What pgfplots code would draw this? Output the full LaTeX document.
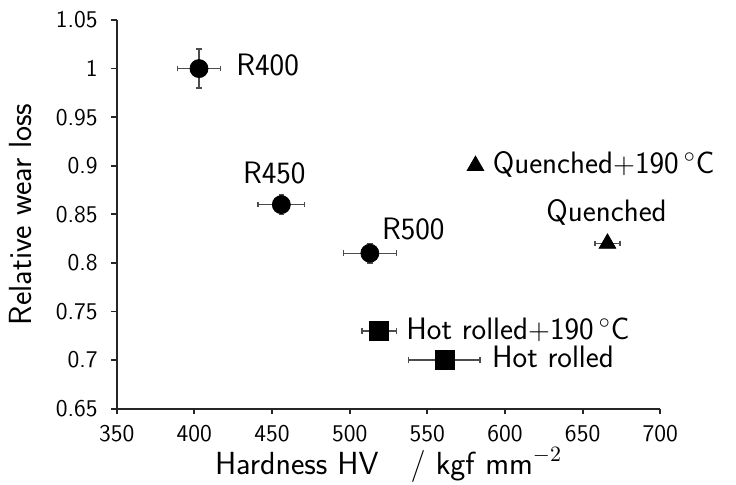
\documentclass[border=0pt]{standalone}
\usepackage{pgfplots}
\pgfplotsset{compat=1.18}
\renewcommand{\familydefault}{\sfdefault}
\begin{document}
\begin{tikzpicture}
\begin{axis}[
  scale only axis,
  width=271.8pt, height=194.35pt,
  xmin=350, xmax=700, ymin=0.65, ymax=1.05,
  axis lines=left,
  axis line style={-, line width=0.9pt, black!85},
  xtick={350,400,...,700},
  ytick={0.65,0.7,...,1.05},
  yticklabels={0.65,0.7,0.75,0.8,0.85,0.9,0.95,1,1.05},
  tick align=outside,
  major tick length=2.8pt,
  tick style={line width=0.9pt, black!85},
  /pgf/number format/assume math mode=true,
  tick label style={font=\fontsize{12}{14}\selectfont},
  xticklabel style={anchor=base, yshift=-13.7pt},
  yticklabel style={anchor=east, inner sep=0pt, xshift=-6.5pt},
  clip=false,
  error bars/error bar style={line width=0.7pt, black!70},
  error bars/error mark options={rotate=90, mark size=1.4pt, line width=0.7pt, black!70},
]
% circles (R400, R450, R500)
\addplot[only marks, mark=*, mark size=4.5pt, black,
  error bars/.cd, x dir=both, x explicit, y dir=both, y explicit]
  table[x=x, y=y, x error=ex, y error=ey] {
x y ex ey
403 1.00 14 0.02
456 0.86 15 0.01
513 0.81 17 0.01
};
% triangles (Quenched+190, Quenched)
\addplot[only marks, mark=triangle*, mark size=4.8pt, black,
  error bars/.cd, x dir=both, x explicit]
  table[x=x, y=y, x error=ex] {
x y ex
581 0.90 0
666 0.82 8
};
% squares (Hot rolled+190, Hot rolled)
\addplot[only marks, mark=square*, mark size=4.75pt, black,
  error bars/.cd, x dir=both, x explicit]
  table[x=x, y=y, x error=ex] {
x y ex
519 0.73 11
561 0.70 23
};
\begin{scope}[every node/.style={anchor=base west, inner sep=0pt, font=\fontsize{15.5}{18}\selectfont}]
\node at (axis cs:426.8,0.9924) {R400};
\node at (axis cs:431.1,0.882) {R450};
\node at (axis cs:520.6,0.8237) {R500};
\node at (axis cs:591.9,0.8923) {Quenched$+$190\,$^\circ$C};
\node at (axis cs:626.4,0.8425) {Quenched};
\node at (axis cs:536.3,0.7215) {Hot rolled$+$190\,$^\circ$C};
\node at (axis cs:591.5,0.6923) {Hot rolled};
\end{scope}
\node[anchor=base, inner sep=0pt, font=\fontsize{16}{19}\selectfont]
  at ([yshift=-32.65pt]axis description cs:0.5,0) {Hardness HV\quad/ kgf\,\,mm$^{-2}$};
\node[anchor=base, inner sep=0pt, rotate=90, font=\fontsize{16}{19}\selectfont]
  at ([xshift=-42.35pt]axis description cs:0,0.5) {Relative wear loss};
\end{axis}
\pgfresetboundingbox
\useasboundingbox ([xshift=-58.35pt, yshift=-37.65pt]current axis.south west) rectangle ([xshift=309.65pt, yshift=204.35pt]current axis.south west);
\end{tikzpicture}
\end{document}
